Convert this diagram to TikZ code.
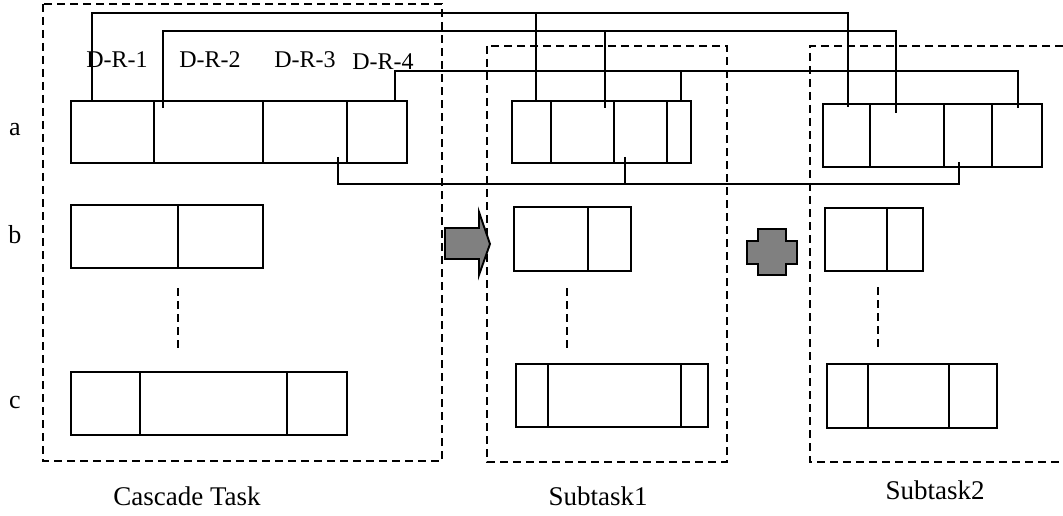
\documentclass[tikz,border=0pt]{standalone}
\usepackage{fontspec}
\setmainfont{Liberation Serif}
\tikzset{cl/.append style={draw,rectangle,inner sep=0pt,line width=1.9pt}}
\tikzset{ln/.append style={line width=1.9pt}}
\tikzset{dsh/.append style={line width=1.8pt,dash pattern=on 8pt off 5pt}}
\tikzset{lb/.append style={font=\fontsize{24}{28}\selectfont,inner sep=0pt}}
\tikzset{tt/.append style={font=\fontsize{27}{32}\selectfont,inner sep=0pt}}
\tikzset{gr/.append style={draw,fill=gray,line width=1.9pt}}

\begin{document}
\begin{tikzpicture}[x=1pt,y=-1pt]
                \useasboundingbox (0,0) rectangle (1063,516);
                % task frames
                \draw[dsh] (43,4) rectangle (442,461);
                \draw[dsh] (487,46) rectangle (727,462);
                \draw[dsh] (1063,46) -- (810,46) -- (810,462) -- (1063,462);
                % row a
                \node[cl,minimum width=83pt,minimum height=62pt] (ca1) at (112.5,132) {};
                \node[cl,minimum width=109pt,minimum height=62pt] (ca2) at (208.5,132) {};
                \node[cl,minimum width=84pt,minimum height=62pt] (ca3) at (305,132) {};
                \node[cl,minimum width=60pt,minimum height=62pt] (ca4) at (377,132) {};
                \node[cl,minimum width=39pt,minimum height=62pt] (sa1) at (531.5,132) {};
                \node[cl,minimum width=63pt,minimum height=62pt] (sa2) at (582.5,132) {};
                \node[cl,minimum width=53pt,minimum height=62pt] (sa3) at (640.5,132) {};
                \node[cl,minimum width=24pt,minimum height=62pt] (sa4) at (679,132) {};
                \node[cl,minimum width=47pt,minimum height=63pt] (ta1) at (846.5,135.5) {};
                \node[cl,minimum width=74pt,minimum height=63pt] (ta2) at (907,135.5) {};
                \node[cl,minimum width=48pt,minimum height=63pt] (ta3) at (968,135.5) {};
                \node[cl,minimum width=50pt,minimum height=63pt] (ta4) at (1017,135.5) {};
                % row b
                \node[cl,minimum width=107pt,minimum height=63pt] (cb1) at (124.5,236.5) {};
                \node[cl,minimum width=85pt,minimum height=63pt] (cb2) at (220.5,236.5) {};
                \node[cl,minimum width=74pt,minimum height=64pt] (sb1) at (551,239) {};
                \node[cl,minimum width=43pt,minimum height=64pt] (sb2) at (609.5,239) {};
                \node[cl,minimum width=62pt,minimum height=63pt] (tb1) at (856,239.5) {};
                \node[cl,minimum width=36pt,minimum height=63pt] (tb2) at (905,239.5) {};
                % row c
                \node[cl,minimum width=69pt,minimum height=63pt] (cc1) at (105.5,403.5) {};
                \node[cl,minimum width=147pt,minimum height=63pt] (cc2) at (213.5,403.5) {};
                \node[cl,minimum width=60pt,minimum height=63pt] (cc3) at (317,403.5) {};
                \node[cl,minimum width=32pt,minimum height=63pt] (sc1) at (532,395.5) {};
                \node[cl,minimum width=133pt,minimum height=63pt] (sc2) at (614.5,395.5) {};
                \node[cl,minimum width=27pt,minimum height=63pt] (sc3) at (694.5,395.5) {};
                \node[cl,minimum width=41pt,minimum height=64pt] (tc1) at (847.5,396) {};
                \node[cl,minimum width=81pt,minimum height=64pt] (tc2) at (908.5,396) {};
                \node[cl,minimum width=48pt,minimum height=64pt] (tc3) at (973,396) {};
                % omitted rows
                \draw[dsh] (178,288) -- (178,352);
                \draw[dsh] (567,288) -- (567,350);
                \draw[dsh] (878,287) -- (878,350);
                % labels
                \node[lb,font=\fontsize{26}{30}\selectfont] (ra) at (15,130) {a};
                \node[lb,font=\fontsize{26}{30}\selectfont] (rb) at (15,235) {b};
                \node[lb,font=\fontsize{26}{30}\selectfont] (rc) at (15,402) {c};
                \node[lb] (dr1) at (117,60) {D-R-1};
                \node[lb] (dr2) at (210,60) {D-R-2};
                \node[lb] (dr3) at (305,60) {D-R-3};
                \node[lb] (dr4) at (383,62) {D-R-4};
                \node[tt] (cas) at (187,496) {Cascade Task};
                \node[tt] (st1) at (598,496) {Subtask1};
                \node[tt] (st2) at (935,490) {Subtask2};
                % taps
                \coordinate (k1a) at (92,101);  \coordinate (k1b) at (536,101); \coordinate (k1c) at (848,107);
                \coordinate (k2a) at (163,108); \coordinate (k2b) at (605,108); \coordinate (k2c) at (896,113);
                \coordinate (k3a) at (395,101); \coordinate (k3b) at (681,101); \coordinate (k3c) at (1018,108);
                \coordinate (k4a) at (338,157); \coordinate (k4b) at (625,157); \coordinate (k4c) at (959,162);
                \coordinate (r1) at (848,13);
                \coordinate (r2) at (896,31);
                \coordinate (r3) at (1018,71);
                \coordinate (r4) at (959,184);
                \draw[ln] (k1a) |- (r1) -- (k1c);
                \draw[ln] (k1b) -- (k1b |- r1);
                \draw[ln] (k2a) |- (r2) -- (k2c);
                \draw[ln] (k2b) -- (k2b |- r2);
                \draw[ln] (k3a) |- (r3) -- (k3c);
                \draw[ln] (k3b) -- (k3b |- r3);
                \draw[ln] (k4a) |- (r4) -- (k4c);
                \draw[ln] (k4b) -- (k4b |- r4);
                % arrow and plus
                \draw[gr] (445,228) -- (479,228) -- (479,212) -- (490,244) -- (479,275) -- (479,259) -- (445,259) -- cycle;
                \draw[gr] (758,229) -- (786,229) -- (786,241) -- (797,241) -- (797,264) -- (786,264) -- (786,275)
                    -- (758,275) -- (758,264) -- (747,264) -- (747,241) -- (758,241) -- cycle;
            \end{tikzpicture}
\end{document}
